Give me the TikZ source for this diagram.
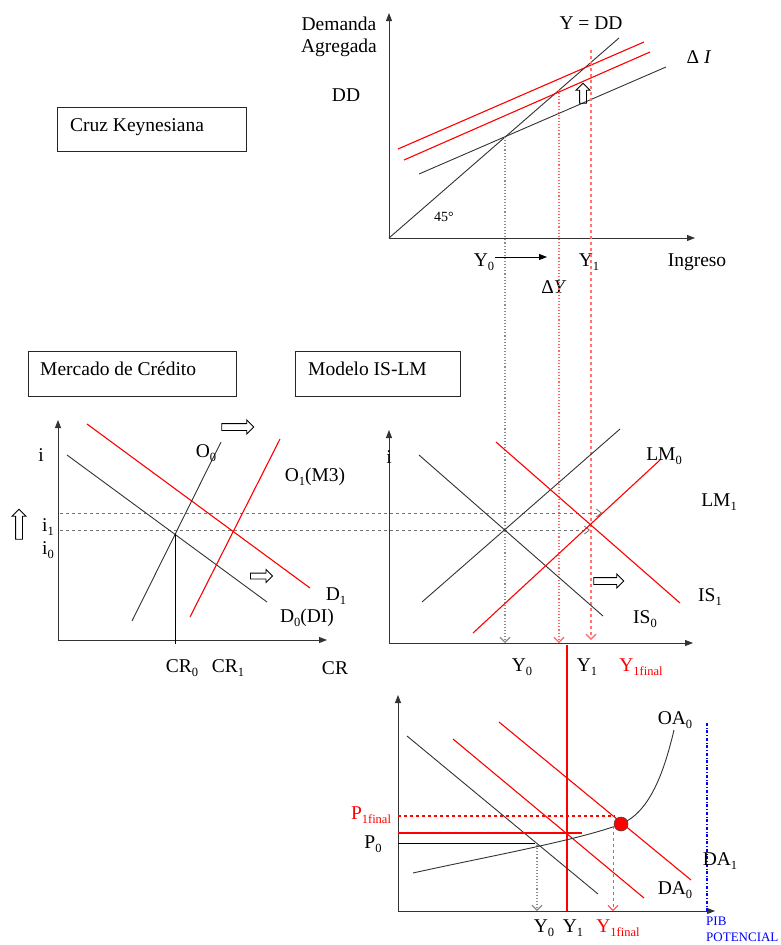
\documentclass[tikz,border=0pt]{standalone}
\usepackage{fontspec}
\setmainfont{Liberation Serif}
\usetikzlibrary{arrows.meta,shapes.arrows}
\newcommand\sbs[1]{\raisebox{-0.45ex}{\fontsize{12.5}{12.5}\selectfont #1}}
\begin{document}
\begin{tikzpicture}[x=1pt,y=-1pt,
  lbl/.style={font=\fontsize{19.5}{22}\selectfont, inner sep=0pt},
  rlbl/.style={lbl, text=red},
  blk/.style={draw=black!80, line width=0.9pt},
  rd/.style={draw=red, line width=1.1pt},
  axisline/.style={draw=black!80, line width=0.9pt, -{Triangle[length=8pt,width=6pt]}},
  titlebox/.style={draw=black!85, line width=1pt, fill=white},
  hollow/.style={draw=black, line width=0.8pt, single arrow, inner xsep=0pt, inner ysep=3pt,
     single arrow head extend=3.5pt},
  gdot/.style={draw=black!45, dotted, line width=1.1pt},
  gdash/.style={draw=black!55, dashed, line width=0.8pt},
  rdot/.style={draw=red!60, dotted, line width=1.1pt},
  rdash/.style={draw=red!55, dashed, line width=1.3pt},
  tip/.style={-{Straight Barb[length=5pt,width=10pt]}}
]
\useasboundingbox[fill=white] (0,0) rectangle (780,945);

% ================= Keynesian cross =================
\node[titlebox, minimum width=189pt, minimum height=44pt] (cruzbox) at (151.5,129) {};
\node[lbl, anchor=west] (cruz) at (70,127) {Cruz Keynesiana};

\coordinate (kO) at (389,238);
\coordinate (kT) at (389,13);
\coordinate (kR) at (695,238);
\draw[axisline] (kO) -- (kT);
\draw[axisline] (kO) -- (kR);
\coordinate (k45b) at (619,38);
\draw[blk] (kO) -- (k45b);
\coordinate (dd0a) at (419,174); \coordinate (dd0b) at (666,67);
\draw[blk] (dd0a) -- (dd0b);
\coordinate (dd1a) at (398,149); \coordinate (dd1b) at (644,42);
\draw[rd] (dd1a) -- (dd1b);
\coordinate (dd2a) at (404,160); \coordinate (dd2b) at (650,52);
\draw[rd] (dd2a) -- (dd2b);

\node[hollow, rotate=90, minimum height=20pt] (upk) at (583,95) {};

\node[lbl] (dem) at (339,24) {Demanda};
\node[lbl] (agr) at (339,48) {Agregada};
\node[lbl] (ddl) at (346,95) {DD};
\node[lbl] (ydd) at (591,23) {Y = DD};
\node[lbl] (dI) at (699,57) {Δ \textit{I}};
\node[lbl, font=\fontsize{14}{16}\selectfont] (deg) at (444,217) {45°};
\node[lbl] (ky0) at (484,262) {Y\sbs{0}};
\node[lbl] (ky1) at (589,262) {Y\sbs{1}};
\node[lbl] (ing) at (697,262) {Ingreso};
\node[lbl] (dY) at (554,287) {Δ\textit{Y}};
\coordinate (ya) at (495,257); \coordinate (yb) at (547,257);
\draw[black, line width=0.8pt, -{Triangle[length=8pt,width=6pt]}] (ya) -- (yb);

% vertical projection lines
\coordinate (v0t) at (505,137); \coordinate (v0b) at (505,643);
\coordinate (v1t) at (559,90);  \coordinate (v1b) at (559,643);
\coordinate (v2t) at (591,50);  \coordinate (v2b) at (591,640);
\draw[gdot, tip] (v0t) -- (v0b);
\draw[rdot, tip] (v1t) -- (v1b);
\draw[rdash, tip] (v2t) -- (v2b);

% ================= Credit market =================
\node[titlebox, minimum width=208pt, minimum height=45pt] (mcbox) at (132,373.5) {};
\node[lbl, anchor=west] (mc) at (40,369) {Mercado de Crédito};
\node[titlebox, minimum width=165pt, minimum height=45pt] (islmbox) at (377.5,373.5) {};
\node[lbl, anchor=west] (islm) at (308,369) {Modelo IS-LM};

\coordinate (cO) at (58,640);
\coordinate (cT) at (58,420);
\coordinate (cR) at (327,640);
\draw[axisline] (cO) -- (cT);
\draw[axisline] (cO) -- (cR);

\coordinate (h1a) at (60,513); \coordinate (h1b) at (602,513);
\coordinate (h2a) at (60,530); \coordinate (h2b) at (590,530);
\draw[gdash, -{Straight Barb[length=5pt,width=8pt]}] (h1a) -- (h1b);
\draw[gdash, -{Straight Barb[length=5pt,width=8pt]}] (h2a) -- (h2b);

\coordinate (d0a) at (67,455);  \coordinate (d0b) at (267,602);
\draw[blk] (d0a) -- (d0b);
\coordinate (d1a) at (87,424);  \coordinate (d1b) at (310,588);
\draw[rd] (d1a) -- (d1b);
\coordinate (o0a) at (132,621); \coordinate (o0b) at (221,442);
\draw[blk] (o0a) -- (o0b);
\coordinate (o1a) at (190,617); \coordinate (o1b) at (280,439);
\draw[rd] (o1a) -- (o1b);
\coordinate (e0) at (175,534); \coordinate (e0b) at (175,644);
\draw[black, line width=1pt] (e0) -- (e0b);

\node[hollow, minimum height=32pt] (rc1) at (236,427) {};
\node[hollow, minimum height=22pt, inner ysep=2.5pt] (rc2) at (260,576) {};
\node[hollow, rotate=90, minimum height=30pt] (upc) at (19,526) {};

\node[lbl] (ci) at (41,455) {i};
\node[lbl] (ci1) at (48,527) {i\sbs{1}};
\node[lbl] (ci0) at (48,550) {i\sbs{0}};
\node[lbl] (lo0) at (206,453) {O\sbs{0}};
\node[lbl] (lo1) at (315,477) {O\sbs{1}(M3)};
\node[lbl] (ld1) at (336,596) {D\sbs{1}};
\node[lbl] (ld0) at (307,618) {D\sbs{0}(DI)};
\node[lbl] (cr0) at (182,668) {CR\sbs{0}};
\node[lbl] (cr1) at (228,668) {CR\sbs{1}};
\node[lbl] (cr) at (335,668) {CR};

% ================= IS-LM =================
\coordinate (iO) at (389,643);
\coordinate (iT) at (389,430);
\coordinate (iR) at (693,643);
\draw[axisline] (iO) -- (iT);
\draw[axisline] (iO) -- (iR);
\coordinate (lm0a) at (422,602); \coordinate (lm0b) at (620,429);
\draw[blk] (lm0a) -- (lm0b);
\coordinate (is0a) at (419,455); \coordinate (is0b) at (603,616);
\draw[blk] (is0a) -- (is0b);
\coordinate (is1a) at (496,442); \coordinate (is1b) at (680,603);
\draw[rd] (is1a) -- (is1b);
\coordinate (lm1a) at (473,633); \coordinate (lm1b) at (660,460);
\draw[rd] (lm1a) -- (lm1b);

\node[hollow, minimum height=30pt] (ris) at (607,581) {};

\node[lbl] (ii) at (389,457) {i};
\node[lbl] (llm0) at (664,456) {LM\sbs{0}};
\node[lbl] (llm1) at (719,502) {LM\sbs{1}};
\node[lbl] (lis1) at (710,597) {IS\sbs{1}};
\node[lbl] (lis0) at (645,619) {IS\sbs{0}};
\node[lbl] (iy0) at (522,667) {Y\sbs{0}};
\node[lbl] (iy1) at (587,667) {Y\sbs{1}};
\node[rlbl] (iyf) at (641,667) {Y\sbs{1final}};

% red vertical through
\coordinate (rvt) at (567,645); \coordinate (rvb) at (567,911);
\draw[red, line width=1.3pt] (rvt) -- (rvb);

% ================= AD-AS =================
\coordinate (aO) at (398,911);
\coordinate (aT) at (398,695);
\coordinate (aR) at (715,911);
\draw[axisline] (aO) -- (aT);
\draw[axisline] (aO) -- (aR);

\coordinate (da0a) at (407,736); \coordinate (da0b) at (598,894);
\draw[blk] (da0a) -- (da0b);
\coordinate (daMa) at (453,739); \coordinate (daMb) at (644,898);
\draw[rd] (daMa) -- (daMb);
\coordinate (da1a) at (499,722); \coordinate (da1b) at (691,880);
\draw[rd] (da1a) -- (da1b);

\coordinate (oaS) at (413,873);
\coordinate (oaE) at (621,824);
\coordinate (oaT) at (674,730);
\draw[blk] (oaS) .. controls (480,858) and (580,840) .. (oaE)
               .. controls (650,812) and (664,772) .. (oaT);

\coordinate (pf0) at (398,816); \coordinate (pf1) at (615,816);
\draw[red, dashed, line width=1.1pt] (pf0) -- (pf1);
\coordinate (p1a) at (398,833); \coordinate (p1b) at (582,833);
\draw[red, line width=1.1pt] (p1a) -- (p1b);
\coordinate (p0a) at (398,843); \coordinate (p0b) at (535,843);
\draw[black, line width=1pt] (p0a) -- (p0b);

\coordinate (ay0t) at (537,845); \coordinate (ay0b) at (537,911);
\draw[gdot, tip] (ay0t) -- (ay0b);
\coordinate (ayft) at (613,826); \coordinate (ayfb) at (613,911);
\draw[draw=red!70, dashed, line width=0.9pt, tip] (ayft) -- (ayfb);

\coordinate (pibt) at (707,723); \coordinate (pibb) at (707,911);
\draw[blue, dash dot, line width=1.1pt] (pibt) -- (pibb);

\node[circle, fill=red, draw=black!70, line width=0.6pt, minimum size=14pt, inner sep=0pt] (eq) at (621,824) {};

\node[rlbl] (lpf) at (371,815) {P\sbs{1final}};
\node[lbl] (lp0) at (373,844) {P\sbs{0}};
\node[lbl] (loa) at (675,720) {OA\sbs{0}};
\node[lbl] (lda1) at (720,861) {DA\sbs{1}};
\node[lbl] (lda0) at (675,890) {DA\sbs{0}};
\node[lbl] (ay0) at (544,928) {Y\sbs{0}};
\node[lbl] (ay1) at (573,928) {Y\sbs{1}};
\node[rlbl] (ayf) at (618,928) {Y\sbs{1final}};
\node[lbl, anchor=west, text=blue, font=\fontsize{13}{13}\selectfont] (pib1) at (706,921) {PIB};
\node[lbl, anchor=west, text=blue, font=\fontsize{13}{13}\selectfont] (pib2) at (706,937) {POTENCIAL};
\end{tikzpicture}
\end{document}
